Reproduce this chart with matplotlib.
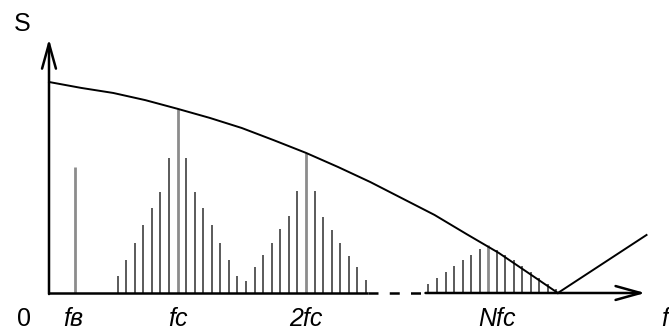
import numpy as np
import matplotlib
matplotlib.use("Agg")
import matplotlib.pyplot as plt

plt.rcParams['font.family'] = ['Liberation Sans', 'DejaVu Sans']

# Частоты (в единицах fc) и амплитуды (огибающая в нуле = 100)
f_v = 0.2          # fв
h_v = 59.7
fm = 0.0664        # шаг боковых составляющих

# гармоники: центр, высоты слева (от дальней к ближней), центр, справа
f_carr = [1.0, 2.0, 3.418]
h_carr = [87.0, 66.4, 22.6]
left_sb = [
    [8.1, 15.6, 23.7, 32.2, 40.3, 47.9, 64.0],
    [12.3, 18.0, 23.7, 30.3, 36.5, 48.3],
    [4.5, 7.1, 10.0, 12.8, 15.5, 17.9, 20.7],
]
right_sb = [
    [64.0, 47.9, 40.3, 32.2, 23.7, 15.6, 8.1, 5.7],
    [48.3, 36.0, 29.9, 23.7, 17.5, 12.3, 6.2],
    [20.2, 17.9, 15.5, 12.8, 10.0, 7.3, 4.5, 2.1],
]

# огибающая спектра
env_f = [0, 0.25, 0.5, 0.75, 1.0, 1.25, 1.5, 1.75, 2.0, 2.25, 2.5,
         2.75, 3.0, 3.25, 3.5, 3.75, 3.96]
env_a = [100, 97.2, 94.8, 91.4, 87.3, 83.0, 78.2, 72.4, 66.4, 59.7, 52.6,
         44.8, 37.0, 27.9, 19.0, 8.7, 0]
v_f = [3.96, 4.65]
v_a = [0, 27.5]

labels = ['0', 'fв', 'fc', '2fc', 'Nfc', 'f']
label_f = [-0.198, 0.19, 1.0, 2.0, 3.49, 4.79]

fig = plt.figure(figsize=(6.69, 3.36), dpi=100)
ax = fig.add_axes([0, 0, 1, 1])
ax.set_xlim(-49 / 128.5, 620 / 128.5)
ax.set_ylim(-20.38, 138.86)
ax.axis('off')

sb_col = '#4d4d4d'
car_col = '#8c8c8c'

ax.vlines(f_v, 0, h_v, color=car_col, lw=2.0)
for fc0, hc, ls, rs in zip(f_carr, h_carr, left_sb, right_sb):
    n_l = np.arange(-len(ls), 0)
    n_r = np.arange(1, len(rs) + 1)
    ax.vlines(fc0 + n_l * fm, 0, ls, color=sb_col, lw=1.3)
    ax.vlines(fc0 + n_r * fm, 0, rs, color=sb_col, lw=1.3)
    ax.vlines(fc0, 0, hc, color=car_col, lw=2.0)

ax.plot(env_f, env_a, color='black', lw=1.4)
ax.plot(v_f, v_a, color='black', lw=1.4)

# оси
arrow = dict(arrowstyle='->,head_length=1.8,head_width=0.5', lw=1.8,
             color='black', mutation_scale=10, shrinkA=0, shrinkB=0)
ax.annotate('', xy=(0, 120.4), xytext=(0, -0.5), arrowprops=arrow)
ax.plot([0, 2.48], [0, 0], color='black', lw=1.8, solid_capstyle='butt')
ax.plot([2.48, 2.93], [0, 0], color='black', lw=1.8, ls=(0, (4, 4.5)))
ax.annotate('', xy=(4.64, 0), xytext=(2.93, 0), arrowprops=arrow)

ax.text(-0.21, 127.5, 'S', fontsize=18, ha='center', va='center')
for lab, fx in zip(labels, label_f):
    style = 'normal' if lab == '0' else 'italic'
    ax.text(fx, -12.3, lab, fontsize=18, ha='center', va='center', style=style)

fig.savefig('out.png', dpi=100)
